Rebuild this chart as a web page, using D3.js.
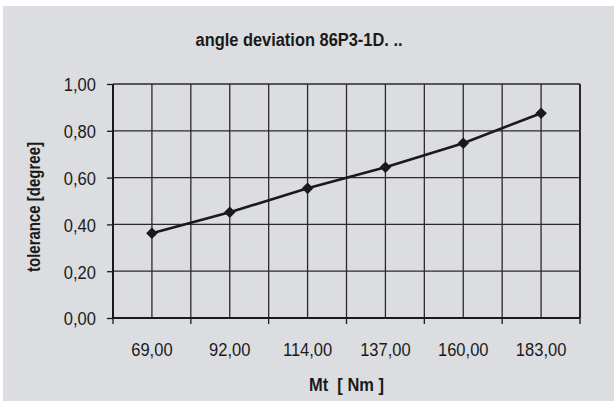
<!DOCTYPE html>
<html>
<head>
<meta charset="utf-8">
<script src="https://cdn.jsdelivr.net/npm/d3@7"></script>
<style>
  body { margin:0; background:#fff; }
  text { font-family:"Liberation Sans",Arial,sans-serif; fill:#1a1a1a; }
</style>
</head>
<body>
<div id="chart"></div>
<script>
// data
var categories = ["69,00","92,00","114,00","137,00","160,00","183,00"];
var values = [0.362, 0.452, 0.554, 0.644, 0.747, 0.875];
var yTicks = [0, 0.2, 0.4, 0.6, 0.8, 1.0];

var W = 614, H = 401;
var margin = {top:84, left:113, right:34, bottom:83};
var squeeze = 0.87;   // fake a condensed face

var svg = d3.select("#chart").append("svg")
    .attr("width", W).attr("height", H);

// grey panel
svg.append("rect")
    .attr("x", 3).attr("y", 6)
    .attr("width", W - 3).attr("height", H - 6)
    .attr("fill", "#dcdde0");

var x = d3.scaleBand().domain(categories)
    .range([margin.left, W - margin.right]).padding(0);
var y = d3.scaleLinear().domain([0, 1])
    .range([H - margin.bottom, margin.top]);

var locale = d3.formatLocale({decimal:",", thousands:".", grouping:[3], currency:["",""]});
var fmt = locale.format(".2f");

var g = svg.append("g");

// vertical gridlines: band edges + band centres
var vx = [];
categories.forEach(function(c){ vx.push(x(c)); vx.push(x(c) + x.bandwidth()/2); });
g.selectAll(".vgrid").data(vx).enter().append("line")
    .attr("x1", function(d){return d;}).attr("x2", function(d){return d;})
    .attr("y1", y(1)).attr("y2", y(0))
    .attr("stroke", "#2a2a2a").attr("stroke-width", 1.3);

// horizontal gridlines
g.selectAll(".hgrid").data(yTicks.slice(1)).enter().append("line")
    .attr("x1", x.range()[0]).attr("x2", x.range()[1])
    .attr("y1", function(d){return y(d);}).attr("y2", function(d){return y(d);})
    .attr("stroke", "#2a2a2a").attr("stroke-width", 1.3);

// right border
g.append("line")
    .attr("x1", x.range()[1]).attr("x2", x.range()[1])
    .attr("y1", y(1)).attr("y2", y(0))
    .attr("stroke", "#2a2a2a").attr("stroke-width", 2);

// y axis
var yAxis = svg.append("g")
    .attr("transform", "translate(" + margin.left + ",0)")
    .call(d3.axisLeft(y).tickValues(yTicks).tickFormat(fmt).tickSize(6));
yAxis.select(".domain").attr("stroke", "#1a1a1a").attr("stroke-width", 2).attr("d", "M0," + y(1) + "V" + y(0));
yAxis.selectAll(".tick line").attr("stroke", "#1a1a1a").attr("stroke-width", 1.3);
yAxis.selectAll(".tick text")
    .attr("x", null)
    .attr("transform", "translate(-17,0) scale(" + squeeze + ",1)")
    .style("font-family", "Liberation Sans")
    .style("font-size", "19px")
    .attr("fill", "#1a1a1a").attr("dy", "0.36em");

// x axis: ticks at band boundaries, labels at band centres
var xEdges = categories.map(function(c){ return x(c); }).concat([x.range()[1]]);
var xAxis = svg.append("g").attr("transform", "translate(0," + y(0) + ")");
xAxis.append("line")
    .attr("x1", x.range()[0]).attr("x2", x.range()[1])
    .attr("stroke", "#1a1a1a").attr("stroke-width", 2);
xAxis.selectAll(".xt").data(xEdges).enter().append("line")
    .attr("x1", function(d){return d;}).attr("x2", function(d){return d;})
    .attr("y1", 0).attr("y2", 6)
    .attr("stroke", "#1a1a1a").attr("stroke-width", 1.3);
xAxis.selectAll(".xl").data(categories).enter().append("text")
    .attr("transform", function(d){
        return "translate(" + (x(d) + x.bandwidth()/2) + ",38) scale(" + squeeze + ",1)";
    })
    .attr("text-anchor", "middle")
    .style("font-size", "19px")
    .text(function(d){return d;});

// the line
var line = d3.line()
    .x(function(d, i){ return x(categories[i]) + x.bandwidth()/2; })
    .y(function(d){ return y(d); });
svg.append("path").datum(values)
    .attr("d", line)
    .attr("fill", "none").attr("stroke", "#1a1a1a").attr("stroke-width", 2.6);

svg.selectAll(".pt").data(values).enter().append("path")
    .attr("transform", function(d, i){
        return "translate(" + (x(categories[i]) + x.bandwidth()/2) + "," + y(d) + ")";
    })
    .attr("d", d3.symbol().type(d3.symbolDiamond2).size(85)())
    .attr("fill", "#1a1a1a");

// title (condensed look via textLength)
svg.append("text")
    .attr("x", 299).attr("y", 46)
    .attr("text-anchor", "middle")
    .attr("textLength", 207).attr("lengthAdjust", "spacingAndGlyphs")
    .style("font-size", "18px").style("font-weight", "bold")
    .text("angle deviation 86P3-1D. ..");

// axis titles
svg.append("text")
    .attr("x", (x.range()[0] + x.range()[1]) / 2).attr("y", 391)
    .attr("text-anchor", "middle")
    .attr("textLength", 75).attr("lengthAdjust", "spacingAndGlyphs")
    .attr("xml:space", "preserve")
    .style("font-size", "18.5px").style("font-weight", "bold")
    .text("Mt  [ Nm ]");

svg.append("text")
    .attr("transform", "translate(40," + 207 + ") rotate(-90)")
    .attr("text-anchor", "middle")
    .attr("textLength", 130).attr("lengthAdjust", "spacingAndGlyphs")
    .style("font-size", "17.5px").style("font-weight", "bold")
    .text("tolerance [degree]");
</script>
</body>
</html>
